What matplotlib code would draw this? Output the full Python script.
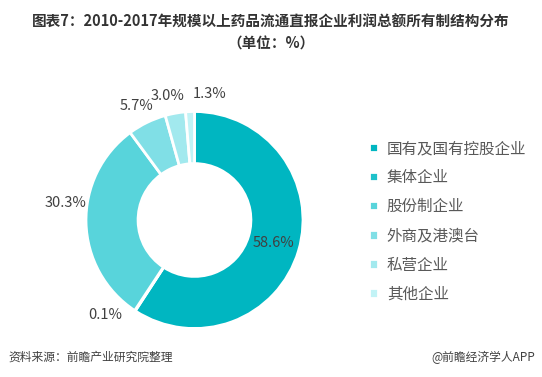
import numpy as np
import matplotlib
matplotlib.use("Agg")
import matplotlib.pyplot as plt

plt.rcParams["font.family"] = ["Noto Sans CJK SC", "DejaVu Sans"]

categories = ["国有及国有控股企业", "集体企业", "股份制企业", "外商及港澳台", "私营企业", "其他企业"]
shares = [58.6, 0.1, 30.3, 5.7, 3.0, 1.3]
labels = ["58.6%", "0.1%", "30.3%", "5.7%", "3.0%", "1.3%"]
colors = ["#00B6C1", "#1EC1CA", "#58D4DB", "#80DFE6", "#A2E9EE", "#C2F3F6"]

# label placement: (radius, angle nudge in degrees)
label_pos = [(0.76, 0), (1.2, -10), (1.2, -9), (1.18, 1), (1.17, 2), (1.17, -9)]

fig = plt.figure(figsize=(5.42, 3.77), dpi=100)
W, H = 542, 377
R = 108.5
cx, cy = 194.5, H - 220
lim = 1.6
side = R * 2 * lim
ax = fig.add_axes([(cx - side / 2) / W, (cy - side / 2) / H, side / W, side / H])

wedges, _ = ax.pie(shares, colors=colors, startangle=90, counterclock=False,
                   radius=1, wedgeprops=dict(width=0.48, edgecolor="white", linewidth=2))

for w, lab, (r, nudge) in zip(wedges, labels, label_pos):
    ang = np.deg2rad((w.theta1 + w.theta2) / 2 + nudge)
    ax.text(r * np.cos(ang), r * np.sin(ang), lab, ha="center", va="center",
            fontsize=10.5, color="#404040")

ax.set_xlim(-lim, lim)
ax.set_ylim(-lim, lim)
ax.set_aspect("equal")
ax.axis("off")

fig.legend(wedges, categories, loc="upper left", bbox_to_anchor=(355 / W, 1 - 126 / H),
           frameon=False, fontsize=11.2, labelcolor="#595959",
           handlelength=0.55, handleheight=0.55, handletextpad=0.6, labelspacing=0.78)

fig.text(0.5, 1 - 22 / H, "图表7：2010-2017年规模以上药品流通直报企业利润总额所有制结构分布",
         ha="center", va="center", fontsize=10.5, fontweight="bold", color="#333333")
fig.text(0.5, 1 - 44 / H, "（单位：%）", ha="center", va="center",
         fontsize=10.5, fontweight="bold", color="#333333")

fig.text(8 / W, 1 - 357 / H, "资料来源：前瞻产业研究院整理", ha="left", va="center",
         fontsize=8.5, style="italic", color="#404040")
fig.text(535 / W, 1 - 357 / H, "@前瞻经济学人APP", ha="right", va="center",
         fontsize=8.5, color="#404040")

fig.savefig("out.png", dpi=100)
